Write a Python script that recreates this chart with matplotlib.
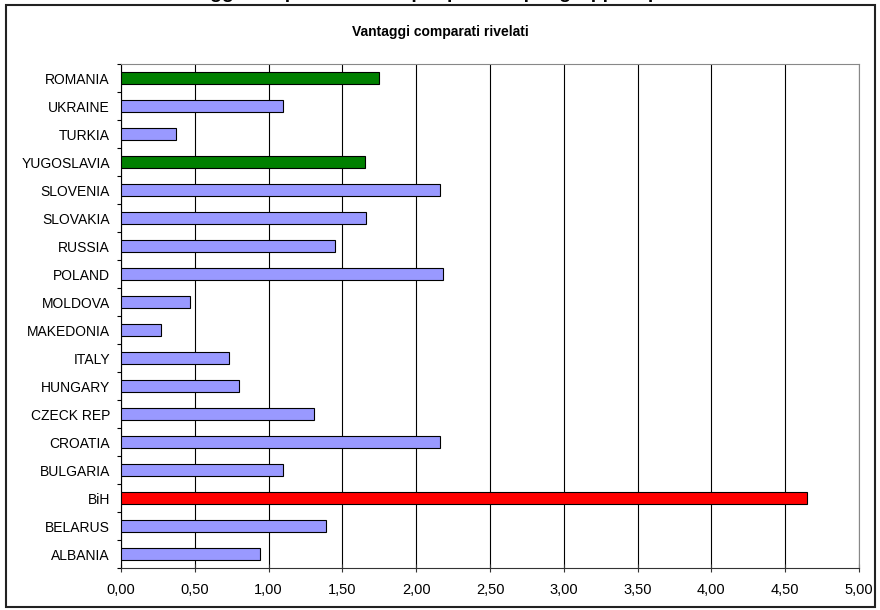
import matplotlib.pyplot as plt
from matplotlib.patches import Rectangle
from matplotlib.ticker import FuncFormatter, MultipleLocator
import numpy as np

plt.rcParams["font.family"] = ["Liberation Sans", "DejaVu Sans"]

# bottom to top, as drawn
countries = [
    "ALBANIA", "BELARUS", "BiH", "BULGARIA", "CROATIA", "CZECK REP",
    "HUNGARY", "ITALY", "MAKEDONIA", "MOLDOVA", "POLAND", "RUSSIA",
    "SLOVAKIA", "SLOVENIA", "YUGOSLAVIA", "TURKIA", "UKRAINE", "ROMANIA",
]
rca = [
    0.94, 1.39, 4.65, 1.10, 2.16, 1.31,
    0.80, 0.73, 0.27, 0.47, 2.18, 1.45,
    1.66, 2.16, 1.65, 0.37, 1.10, 1.75,
]
highlight = {"BiH": "#FF0000", "YUGOSLAVIA": "#008000", "ROMANIA": "#008000"}
base_color = "#9999FF"

title = "Vantaggi comparati rivelati"
x_ticks = np.arange(0, 5.01, 0.5)


def main():
    fig = plt.figure(figsize=(8.8, 6.1), dpi=100)
    ax = fig.add_axes([121 / 880, 1 - 568 / 610, (859 - 121) / 880, (568 - 64) / 610])

    y = np.arange(len(countries))
    colors = [highlight.get(c, base_color) for c in countries]
    ax.barh(y, rca, height=0.4, color=colors, edgecolor="black",
            linewidth=0.8, zorder=3)

    ax.set_xlim(0, 5)
    ax.set_ylim(-0.5, len(countries) - 0.5)

    ax.set_xticks(x_ticks)
    ax.xaxis.set_major_formatter(FuncFormatter(lambda v, p: f"{v:.2f}".replace(".", ",")))
    ax.tick_params(axis="x", direction="inout", length=6, width=0.8,
                   labelsize=10.5, pad=8, color="#333333")
    ax.grid(axis="x", color="black", linewidth=0.8, zorder=1)

    ax.set_yticks(y)
    ax.set_yticklabels(countries)
    ax.tick_params(axis="y", which="major", length=0, labelsize=10, pad=8)
    ax.yaxis.set_minor_locator(MultipleLocator(1, offset=0.5))
    ax.tick_params(axis="y", which="minor", direction="out", length=3,
                   width=0.8, color="black")

    ax.spines["left"].set_color("black")
    ax.spines["bottom"].set_color("#333333")
    ax.spines["top"].set_color("#888888")
    ax.spines["right"].set_color("#888888")
    for s in ax.spines.values():
        s.set_linewidth(0.8)

    fig.text(0.5, 1 - 32 / 610, title, ha="center", va="center",
             fontsize=10, fontweight="bold")

    # header text of the page, mostly cut off above the frame
    fig.text(0.5, 1 + 6 / 610, "Vantaggi comparati rivelati per paese e per gruppi di prodotti",
             ha="center", va="center", fontsize=14, fontweight="bold")

    frame = Rectangle((6 / 880, 3 / 610), (875 - 6) / 880, (605 - 3) / 610,
                      transform=fig.transFigure, fill=False,
                      edgecolor="#222222", linewidth=1.5)
    fig.patches.append(frame)

    fig.savefig("out.png", dpi=100)
    plt.close(fig)


if __name__ == "__main__":
    main()
